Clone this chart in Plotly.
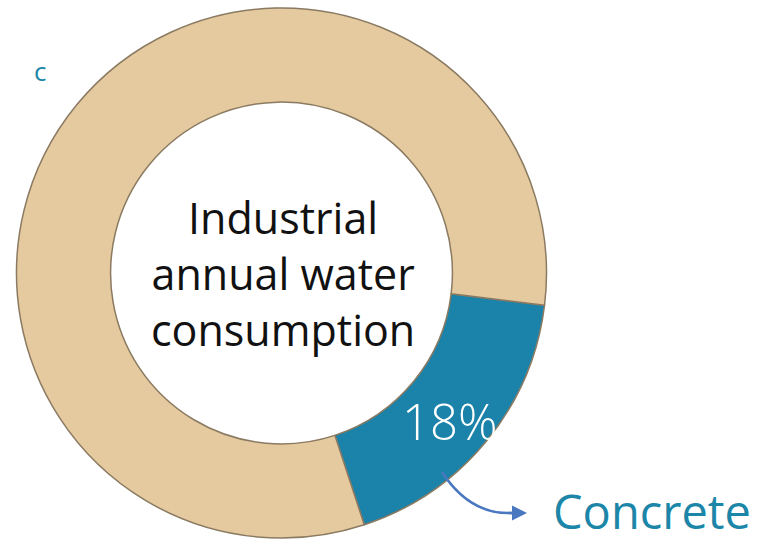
import plotly.graph_objects as go

categories = ["Concrete", "Other industries"]
values = [18, 82]
colors = ["#1B82A9", "#E6CA9F"]
center_text = "Industrial<br>annual water<br>consumption"
panel_label = "c"

W, H = 760, 554

def px(x):
    return x / W

def py(y):
    return 1 - y / H

fig = go.Figure()
fig.add_trace(go.Pie(
    labels=categories,
    values=values,
    hole=0.645,
    sort=False,
    direction="clockwise",
    rotation=97,
    marker=dict(colors=colors, line=dict(color="#8a7a62", width=1.5)),
    textinfo="none",
    hoverinfo="label+percent",
    showlegend=False,
    domain=dict(x=[px(16), px(547)], y=[py(538), py(8)]),
))

pct = round(100 * values[0] / sum(values))

annotations = [
    dict(x=px(283), y=py(273), xref="paper", yref="paper", text=center_text,
         showarrow=False, font=dict(family="Open Sans", size=43, color="#111111"),
         xanchor="center", yanchor="middle"),
    dict(x=px(450), y=py(421), xref="paper", yref="paper", text=f"{pct}%",
         showarrow=False, font=dict(family="Open Sans", size=49, color="#ffffff", weight=300),
         xanchor="center", yanchor="middle"),
    dict(x=px(551), y=py(511), xref="paper", yref="paper", text=categories[0],
         showarrow=False, font=dict(family="Open Sans", size=47, color="#1B86A8"),
         xanchor="left", yanchor="middle"),
    dict(x=px(40), y=py(71), xref="paper", yref="paper", text=panel_label,
         showarrow=False, font=dict(family="Open Sans", size=26, color="#1B86A8"),
         xanchor="center", yanchor="middle"),
    dict(x=px(527), y=py(513), xref="paper", yref="paper", ax=-20, ay=0,
         text="", showarrow=True, arrowhead=2,
         arrowsize=1.2, arrowwidth=2.5, arrowcolor="#4A78C0"),
]

x0, y0 = px(442), py(472)
cx, cy = px(470), py(515)
x1, y1 = px(512), py(513)
shapes = [
    dict(type="path", xref="paper", yref="paper",
         path=f"M {x0},{y0} Q {cx},{cy} {x1},{y1}",
         line=dict(color="#4A78C0", width=2.5)),
]

fig.update_layout(
    width=W, height=H,
    margin=dict(l=0, r=0, t=0, b=0),
    paper_bgcolor="white",
    plot_bgcolor="white",
    annotations=annotations,
    shapes=shapes,
)

fig.write_html("out.html", config={"displayModeBar": False},
               post_script="document.body.style.margin='0';")
